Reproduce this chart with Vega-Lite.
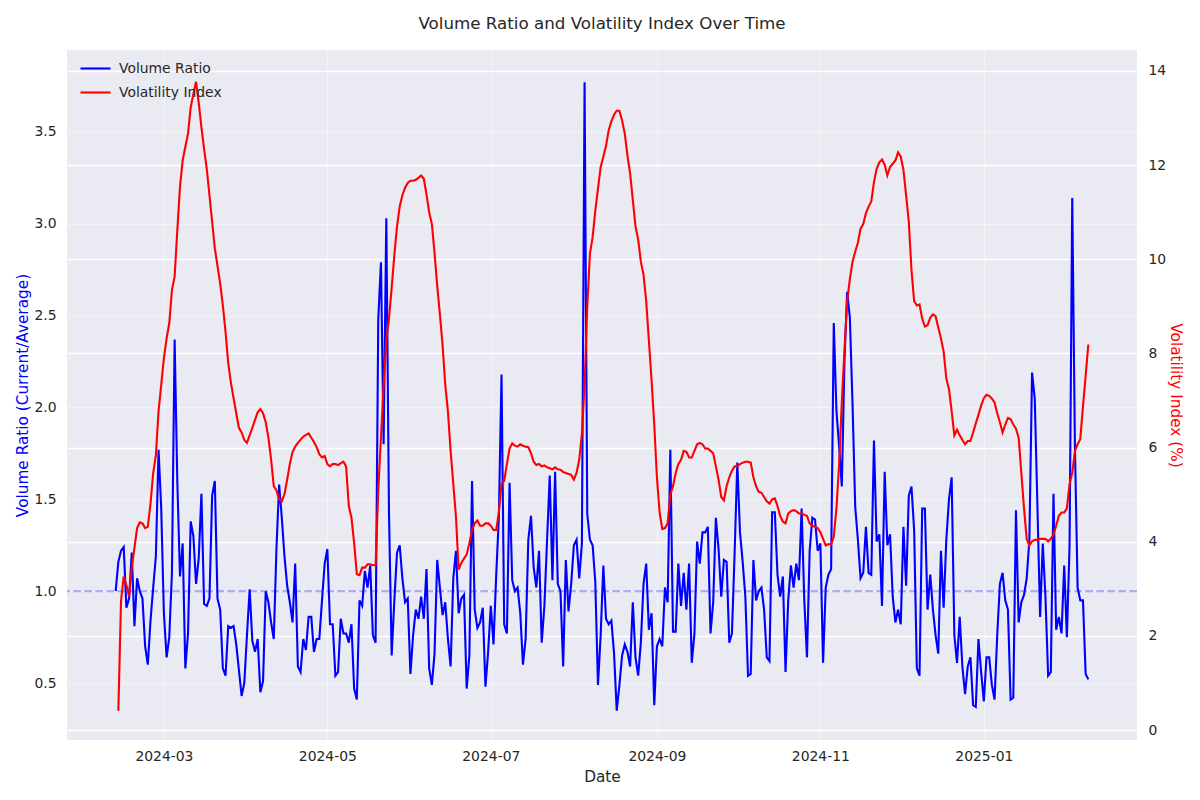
{
  "$schema": "https://vega.github.io/schema/vega-lite/v6.json",
  "autosize": {"type": "none"},
  "width": 1070,
  "height": 690,
  "padding": {"left": 67, "top": 50, "right": 63, "bottom": 60},
  "background": "white",
  "title": {"text": "Volume Ratio and Volatility Index Over Time", "fontSize": 16.7, "fontWeight": "normal", "color": "#262626", "font": "DejaVu Sans", "anchor": "middle", "offset": 17},
  "config": {
    "font": "DejaVu Sans",
    "view": {"fill": "#EAEAF2", "stroke": null},
    "axis": {"domain": false, "ticks": false, "labelFontSize": 13.9, "labelColor": "#262626", "titleFontSize": 15.3, "titleFontWeight": "normal", "titleColor": "#262626", "gridColor": "white"},
    "legend": {"symbolType": "stroke", "symbolSize": 900, "symbolStrokeWidth": 2.1, "labelFontSize": 13.9, "labelColor": "#262626", "labelOffset": 7, "rowPadding": -2}
  },
  "data": {"values": [
    {"date":"2024-02-12","vol":1.00,"vix":null},
    {"date":"2024-02-13","vol":1.16,"vix":0.41},
    {"date":"2024-02-14","vol":1.22,"vix":2.75},
    {"date":"2024-02-15","vol":1.24,"vix":3.26},
    {"date":"2024-02-16","vol":0.91,"vix":3.08},
    {"date":"2024-02-17","vol":0.96,"vix":2.84},
    {"date":"2024-02-18","vol":1.21,"vix":3.45},
    {"date":"2024-02-19","vol":0.81,"vix":3.87},
    {"date":"2024-02-20","vol":1.07,"vix":4.29},
    {"date":"2024-02-21","vol":1.00,"vix":4.41},
    {"date":"2024-02-22","vol":0.96,"vix":4.39},
    {"date":"2024-02-23","vol":0.70,"vix":4.29},
    {"date":"2024-02-24","vol":0.60,"vix":4.32},
    {"date":"2024-02-25","vol":0.84,"vix":4.81},
    {"date":"2024-02-26","vol":1.02,"vix":5.46},
    {"date":"2024-02-27","vol":1.19,"vix":5.84},
    {"date":"2024-02-28","vol":1.77,"vix":6.77},
    {"date":"2024-02-29","vol":1.45,"vix":7.33},
    {"date":"2024-03-01","vol":0.88,"vix":7.90},
    {"date":"2024-03-02","vol":0.64,"vix":8.32},
    {"date":"2024-03-03","vol":0.75,"vix":8.64},
    {"date":"2024-03-04","vol":1.10,"vix":9.35},
    {"date":"2024-03-05","vol":2.37,"vix":9.63},
    {"date":"2024-03-06","vol":1.60,"vix":10.61},
    {"date":"2024-03-07","vol":1.08,"vix":11.54},
    {"date":"2024-03-08","vol":1.26,"vix":12.10},
    {"date":"2024-03-09","vol":0.58,"vix":12.39},
    {"date":"2024-03-10","vol":0.77,"vix":12.67},
    {"date":"2024-03-11","vol":1.38,"vix":13.23},
    {"date":"2024-03-12","vol":1.30,"vix":13.51},
    {"date":"2024-03-13","vol":1.04,"vix":13.77},
    {"date":"2024-03-14","vol":1.18,"vix":13.32},
    {"date":"2024-03-15","vol":1.53,"vix":12.81},
    {"date":"2024-03-16","vol":0.93,"vix":12.34},
    {"date":"2024-03-17","vol":0.92,"vix":11.92},
    {"date":"2024-03-18","vol":0.96,"vix":11.36},
    {"date":"2024-03-19","vol":1.52,"vix":10.80},
    {"date":"2024-03-20","vol":1.60,"vix":10.23},
    {"date":"2024-03-21","vol":0.96,"vix":9.86},
    {"date":"2024-03-22","vol":0.90,"vix":9.49},
    {"date":"2024-03-23","vol":0.58,"vix":9.02},
    {"date":"2024-03-24","vol":0.54,"vix":8.46},
    {"date":"2024-03-25","vol":0.81,"vix":7.80},
    {"date":"2024-03-26","vol":0.80,"vix":7.38},
    {"date":"2024-03-27","vol":0.81,"vix":7.05},
    {"date":"2024-03-28","vol":0.71,"vix":6.73},
    {"date":"2024-03-29","vol":0.57,"vix":6.42},
    {"date":"2024-03-30","vol":0.43,"vix":6.32},
    {"date":"2024-03-31","vol":0.50,"vix":6.16},
    {"date":"2024-04-01","vol":0.76,"vix":6.10},
    {"date":"2024-04-02","vol":1.01,"vix":6.26},
    {"date":"2024-04-03","vol":0.73,"vix":6.42},
    {"date":"2024-04-04","vol":0.67,"vix":6.59},
    {"date":"2024-04-05","vol":0.74,"vix":6.75},
    {"date":"2024-04-06","vol":0.45,"vix":6.82},
    {"date":"2024-04-07","vol":0.51,"vix":6.73},
    {"date":"2024-04-08","vol":1.00,"vix":6.54},
    {"date":"2024-04-09","vol":0.94,"vix":6.21},
    {"date":"2024-04-10","vol":0.83,"vix":5.75},
    {"date":"2024-04-11","vol":0.74,"vix":5.18},
    {"date":"2024-04-12","vol":1.23,"vix":5.09},
    {"date":"2024-04-13","vol":1.58,"vix":4.90},
    {"date":"2024-04-14","vol":1.40,"vix":4.86},
    {"date":"2024-04-15","vol":1.19,"vix":5.01},
    {"date":"2024-04-16","vol":1.03,"vix":5.32},
    {"date":"2024-04-17","vol":0.94,"vix":5.65},
    {"date":"2024-04-18","vol":0.83,"vix":5.90},
    {"date":"2024-04-19","vol":1.15,"vix":6.02},
    {"date":"2024-04-20","vol":0.59,"vix":6.10},
    {"date":"2024-04-21","vol":0.56,"vix":6.17},
    {"date":"2024-04-22","vol":0.74,"vix":6.23},
    {"date":"2024-04-23","vol":0.68,"vix":6.27},
    {"date":"2024-04-24","vol":0.86,"vix":6.30},
    {"date":"2024-04-25","vol":0.86,"vix":6.21},
    {"date":"2024-04-26","vol":0.67,"vix":6.12},
    {"date":"2024-04-27","vol":0.74,"vix":6.01},
    {"date":"2024-04-28","vol":0.74,"vix":5.86},
    {"date":"2024-04-29","vol":0.95,"vix":5.79},
    {"date":"2024-04-30","vol":1.15,"vix":5.82},
    {"date":"2024-05-01","vol":1.23,"vix":5.65},
    {"date":"2024-05-02","vol":0.82,"vix":5.60},
    {"date":"2024-05-03","vol":0.82,"vix":5.65},
    {"date":"2024-05-04","vol":0.54,"vix":5.65},
    {"date":"2024-05-05","vol":0.56,"vix":5.63},
    {"date":"2024-05-06","vol":0.85,"vix":5.67},
    {"date":"2024-05-07","vol":0.77,"vix":5.70},
    {"date":"2024-05-08","vol":0.77,"vix":5.60},
    {"date":"2024-05-09","vol":0.72,"vix":4.76},
    {"date":"2024-05-10","vol":0.82,"vix":4.51},
    {"date":"2024-05-11","vol":0.47,"vix":3.97},
    {"date":"2024-05-12","vol":0.41,"vix":3.31},
    {"date":"2024-05-13","vol":0.95,"vix":3.29},
    {"date":"2024-05-14","vol":0.92,"vix":3.45},
    {"date":"2024-05-15","vol":1.11,"vix":3.45},
    {"date":"2024-05-16","vol":1.02,"vix":3.52},
    {"date":"2024-05-17","vol":1.14,"vix":3.52},
    {"date":"2024-05-18","vol":0.76,"vix":3.50},
    {"date":"2024-05-19","vol":0.72,"vix":3.50},
    {"date":"2024-05-20","vol":2.48,"vix":5.09},
    {"date":"2024-05-21","vol":2.79,"vix":6.21},
    {"date":"2024-05-22","vol":1.80,"vix":7.33},
    {"date":"2024-05-23","vol":3.03,"vix":8.27},
    {"date":"2024-05-24","vol":1.43,"vix":8.74},
    {"date":"2024-05-25","vol":0.65,"vix":9.39},
    {"date":"2024-05-26","vol":0.95,"vix":10.09},
    {"date":"2024-05-27","vol":1.21,"vix":10.70},
    {"date":"2024-05-28","vol":1.25,"vix":11.12},
    {"date":"2024-05-29","vol":1.07,"vix":11.36},
    {"date":"2024-05-30","vol":0.94,"vix":11.52},
    {"date":"2024-05-31","vol":0.96,"vix":11.62},
    {"date":"2024-06-01","vol":0.55,"vix":11.67},
    {"date":"2024-06-02","vol":0.76,"vix":11.67},
    {"date":"2024-06-03","vol":0.90,"vix":11.69},
    {"date":"2024-06-04","vol":0.85,"vix":11.73},
    {"date":"2024-06-05","vol":0.97,"vix":11.78},
    {"date":"2024-06-06","vol":0.85,"vix":11.71},
    {"date":"2024-06-07","vol":1.12,"vix":11.38},
    {"date":"2024-06-08","vol":0.58,"vix":11.00},
    {"date":"2024-06-09","vol":0.49,"vix":10.75},
    {"date":"2024-06-10","vol":0.66,"vix":10.14},
    {"date":"2024-06-11","vol":1.17,"vix":9.44},
    {"date":"2024-06-12","vol":1.02,"vix":8.83},
    {"date":"2024-06-13","vol":0.87,"vix":8.18},
    {"date":"2024-06-14","vol":0.94,"vix":7.33},
    {"date":"2024-06-15","vol":0.74,"vix":6.77},
    {"date":"2024-06-16","vol":0.59,"vix":5.93},
    {"date":"2024-06-17","vol":1.07,"vix":5.23},
    {"date":"2024-06-18","vol":1.22,"vix":4.53},
    {"date":"2024-06-19","vol":0.88,"vix":3.41},
    {"date":"2024-06-20","vol":0.96,"vix":3.55},
    {"date":"2024-06-21","vol":0.98,"vix":3.64},
    {"date":"2024-06-22","vol":0.47,"vix":3.73},
    {"date":"2024-06-23","vol":0.65,"vix":3.97},
    {"date":"2024-06-24","vol":1.60,"vix":4.25},
    {"date":"2024-06-25","vol":0.90,"vix":4.39},
    {"date":"2024-06-26","vol":0.80,"vix":4.45},
    {"date":"2024-06-27","vol":0.83,"vix":4.34},
    {"date":"2024-06-28","vol":0.91,"vix":4.34},
    {"date":"2024-06-29","vol":0.48,"vix":4.39},
    {"date":"2024-06-30","vol":0.67,"vix":4.39},
    {"date":"2024-07-01","vol":0.92,"vix":4.34},
    {"date":"2024-07-02","vol":0.71,"vix":4.25},
    {"date":"2024-07-03","vol":1.08,"vix":4.25},
    {"date":"2024-07-04","vol":1.40,"vix":4.62},
    {"date":"2024-07-05","vol":2.18,"vix":5.23},
    {"date":"2024-07-06","vol":0.82,"vix":5.29},
    {"date":"2024-07-07","vol":0.77,"vix":5.65},
    {"date":"2024-07-08","vol":1.59,"vix":5.98},
    {"date":"2024-07-09","vol":1.06,"vix":6.09},
    {"date":"2024-07-10","vol":1.00,"vix":6.04},
    {"date":"2024-07-11","vol":1.02,"vix":6.02},
    {"date":"2024-07-12","vol":0.88,"vix":6.07},
    {"date":"2024-07-13","vol":0.60,"vix":6.04},
    {"date":"2024-07-14","vol":0.74,"vix":6.02},
    {"date":"2024-07-15","vol":1.28,"vix":6.01},
    {"date":"2024-07-16","vol":1.41,"vix":5.88},
    {"date":"2024-07-17","vol":1.13,"vix":5.70},
    {"date":"2024-07-18","vol":1.02,"vix":5.63},
    {"date":"2024-07-19","vol":1.22,"vix":5.65},
    {"date":"2024-07-20","vol":0.72,"vix":5.60},
    {"date":"2024-07-21","vol":0.92,"vix":5.62},
    {"date":"2024-07-22","vol":1.28,"vix":5.58},
    {"date":"2024-07-23","vol":1.63,"vix":5.56},
    {"date":"2024-07-24","vol":1.06,"vix":5.54},
    {"date":"2024-07-25","vol":1.65,"vix":5.58},
    {"date":"2024-07-26","vol":1.04,"vix":5.54},
    {"date":"2024-07-27","vol":1.00,"vix":5.53},
    {"date":"2024-07-28","vol":0.59,"vix":5.48},
    {"date":"2024-07-29","vol":1.17,"vix":5.46},
    {"date":"2024-07-30","vol":0.89,"vix":5.44},
    {"date":"2024-07-31","vol":1.04,"vix":5.42},
    {"date":"2024-08-01","vol":1.25,"vix":5.32},
    {"date":"2024-08-02","vol":1.28,"vix":5.46},
    {"date":"2024-08-03","vol":1.07,"vix":5.74},
    {"date":"2024-08-04","vol":1.26,"vix":6.30},
    {"date":"2024-08-05","vol":3.77,"vix":7.33},
    {"date":"2024-08-06","vol":1.42,"vix":9.00},
    {"date":"2024-08-07","vol":1.28,"vix":10.12},
    {"date":"2024-08-08","vol":1.25,"vix":10.47},
    {"date":"2024-08-09","vol":1.05,"vix":11.03},
    {"date":"2024-08-10","vol":0.49,"vix":11.50},
    {"date":"2024-08-11","vol":0.76,"vix":11.96},
    {"date":"2024-08-12","vol":1.14,"vix":12.18},
    {"date":"2024-08-13","vol":0.85,"vix":12.41},
    {"date":"2024-08-14","vol":0.82,"vix":12.74},
    {"date":"2024-08-15","vol":0.84,"vix":12.93},
    {"date":"2024-08-16","vol":0.66,"vix":13.07},
    {"date":"2024-08-17","vol":0.35,"vix":13.16},
    {"date":"2024-08-18","vol":0.49,"vix":13.15},
    {"date":"2024-08-19","vol":0.65,"vix":12.95},
    {"date":"2024-08-20","vol":0.71,"vix":12.67},
    {"date":"2024-08-21","vol":0.67,"vix":12.20},
    {"date":"2024-08-22","vol":0.59,"vix":11.82},
    {"date":"2024-08-23","vol":0.94,"vix":11.26},
    {"date":"2024-08-24","vol":0.64,"vix":10.70},
    {"date":"2024-08-25","vol":0.54,"vix":10.42},
    {"date":"2024-08-26","vol":0.72,"vix":9.95},
    {"date":"2024-08-27","vol":1.04,"vix":9.67},
    {"date":"2024-08-28","vol":1.15,"vix":9.11},
    {"date":"2024-08-29","vol":0.79,"vix":8.27},
    {"date":"2024-08-30","vol":0.88,"vix":7.43},
    {"date":"2024-08-31","vol":0.38,"vix":6.49},
    {"date":"2024-09-01","vol":0.70,"vix":5.37},
    {"date":"2024-09-02","vol":0.74,"vix":4.62},
    {"date":"2024-09-03","vol":0.70,"vix":4.27},
    {"date":"2024-09-04","vol":1.02,"vix":4.29},
    {"date":"2024-09-05","vol":0.94,"vix":4.39},
    {"date":"2024-09-06","vol":1.77,"vix":5.00},
    {"date":"2024-09-07","vol":0.78,"vix":5.18},
    {"date":"2024-09-08","vol":0.78,"vix":5.46},
    {"date":"2024-09-09","vol":1.15,"vix":5.65},
    {"date":"2024-09-10","vol":0.92,"vix":5.74},
    {"date":"2024-09-11","vol":1.10,"vix":5.93},
    {"date":"2024-09-12","vol":0.90,"vix":5.91},
    {"date":"2024-09-13","vol":1.15,"vix":5.79},
    {"date":"2024-09-14","vol":0.61,"vix":5.79},
    {"date":"2024-09-15","vol":0.77,"vix":5.93},
    {"date":"2024-09-16","vol":1.27,"vix":6.07},
    {"date":"2024-09-17","vol":1.15,"vix":6.10},
    {"date":"2024-09-18","vol":1.32,"vix":6.07},
    {"date":"2024-09-19","vol":1.32,"vix":5.98},
    {"date":"2024-09-20","vol":1.35,"vix":5.98},
    {"date":"2024-09-21","vol":0.77,"vix":5.93},
    {"date":"2024-09-22","vol":0.94,"vix":5.88},
    {"date":"2024-09-23","vol":1.40,"vix":5.60},
    {"date":"2024-09-24","vol":1.23,"vix":5.32},
    {"date":"2024-09-25","vol":0.97,"vix":4.95},
    {"date":"2024-09-26","vol":1.17,"vix":4.88},
    {"date":"2024-09-27","vol":1.16,"vix":5.18},
    {"date":"2024-09-28","vol":0.72,"vix":5.37},
    {"date":"2024-09-29","vol":0.77,"vix":5.51},
    {"date":"2024-09-30","vol":1.21,"vix":5.60},
    {"date":"2024-10-01","vol":1.70,"vix":5.60},
    {"date":"2024-10-02","vol":1.32,"vix":5.65},
    {"date":"2024-10-03","vol":1.16,"vix":5.68},
    {"date":"2024-10-04","vol":0.97,"vix":5.70},
    {"date":"2024-10-05","vol":0.54,"vix":5.70},
    {"date":"2024-10-06","vol":0.55,"vix":5.68},
    {"date":"2024-10-07","vol":1.17,"vix":5.37},
    {"date":"2024-10-08","vol":0.95,"vix":5.18},
    {"date":"2024-10-09","vol":1.00,"vix":5.06},
    {"date":"2024-10-10","vol":1.02,"vix":5.04},
    {"date":"2024-10-11","vol":0.90,"vix":4.95},
    {"date":"2024-10-12","vol":0.64,"vix":4.86},
    {"date":"2024-10-13","vol":0.62,"vix":4.81},
    {"date":"2024-10-14","vol":1.43,"vix":4.90},
    {"date":"2024-10-15","vol":1.43,"vix":4.92},
    {"date":"2024-10-16","vol":1.09,"vix":4.76},
    {"date":"2024-10-17","vol":0.97,"vix":4.55},
    {"date":"2024-10-18","vol":1.08,"vix":4.43},
    {"date":"2024-10-19","vol":0.56,"vix":4.39},
    {"date":"2024-10-20","vol":0.95,"vix":4.60},
    {"date":"2024-10-21","vol":1.14,"vix":4.65},
    {"date":"2024-10-22","vol":1.02,"vix":4.67},
    {"date":"2024-10-23","vol":1.15,"vix":4.65},
    {"date":"2024-10-24","vol":1.06,"vix":4.60},
    {"date":"2024-10-25","vol":1.45,"vix":4.60},
    {"date":"2024-10-26","vol":0.95,"vix":4.57},
    {"date":"2024-10-27","vol":0.64,"vix":4.55},
    {"date":"2024-10-28","vol":1.22,"vix":4.39},
    {"date":"2024-10-29","vol":1.40,"vix":4.34},
    {"date":"2024-10-30","vol":1.39,"vix":4.32},
    {"date":"2024-10-31","vol":1.22,"vix":4.29},
    {"date":"2024-11-01","vol":1.26,"vix":4.20},
    {"date":"2024-11-02","vol":0.61,"vix":4.06},
    {"date":"2024-11-03","vol":1.02,"vix":3.92},
    {"date":"2024-11-04","vol":1.09,"vix":3.95},
    {"date":"2024-11-05","vol":1.12,"vix":3.94},
    {"date":"2024-11-06","vol":2.46,"vix":4.11},
    {"date":"2024-11-07","vol":1.98,"vix":4.71},
    {"date":"2024-11-08","vol":1.79,"vix":5.65},
    {"date":"2024-11-09","vol":1.57,"vix":6.96},
    {"date":"2024-11-10","vol":2.26,"vix":8.08},
    {"date":"2024-11-11","vol":2.63,"vix":9.11},
    {"date":"2024-11-12","vol":2.49,"vix":9.58},
    {"date":"2024-11-13","vol":2.02,"vix":9.95},
    {"date":"2024-11-14","vol":1.46,"vix":10.16},
    {"date":"2024-11-15","vol":1.28,"vix":10.35},
    {"date":"2024-11-16","vol":1.07,"vix":10.65},
    {"date":"2024-11-17","vol":1.10,"vix":10.75},
    {"date":"2024-11-18","vol":1.35,"vix":10.98},
    {"date":"2024-11-19","vol":1.10,"vix":11.12},
    {"date":"2024-11-20","vol":1.09,"vix":11.23},
    {"date":"2024-11-21","vol":1.82,"vix":11.64},
    {"date":"2024-11-22","vol":1.27,"vix":11.92},
    {"date":"2024-11-23","vol":1.31,"vix":12.06},
    {"date":"2024-11-24","vol":0.92,"vix":12.12},
    {"date":"2024-11-25","vol":1.65,"vix":12.01},
    {"date":"2024-11-26","vol":1.25,"vix":11.78},
    {"date":"2024-11-27","vol":1.31,"vix":11.96},
    {"date":"2024-11-28","vol":0.97,"vix":12.03},
    {"date":"2024-11-29","vol":0.83,"vix":12.10},
    {"date":"2024-11-30","vol":0.90,"vix":12.27},
    {"date":"2024-12-01","vol":0.82,"vix":12.18},
    {"date":"2024-12-02","vol":1.35,"vix":11.90},
    {"date":"2024-12-03","vol":1.03,"vix":11.36},
    {"date":"2024-12-04","vol":1.52,"vix":10.80},
    {"date":"2024-12-05","vol":1.57,"vix":9.77},
    {"date":"2024-12-06","vol":1.33,"vix":9.11},
    {"date":"2024-12-07","vol":0.58,"vix":9.02},
    {"date":"2024-12-08","vol":0.54,"vix":9.04},
    {"date":"2024-12-09","vol":1.45,"vix":8.74},
    {"date":"2024-12-10","vol":1.45,"vix":8.57},
    {"date":"2024-12-11","vol":0.90,"vix":8.60},
    {"date":"2024-12-12","vol":1.09,"vix":8.76},
    {"date":"2024-12-13","vol":0.90,"vix":8.83},
    {"date":"2024-12-14","vol":0.76,"vix":8.79},
    {"date":"2024-12-15","vol":0.66,"vix":8.55},
    {"date":"2024-12-16","vol":1.22,"vix":8.32},
    {"date":"2024-12-17","vol":0.91,"vix":8.04},
    {"date":"2024-12-18","vol":1.28,"vix":7.47},
    {"date":"2024-12-19","vol":1.50,"vix":7.24},
    {"date":"2024-12-20","vol":1.62,"vix":6.77},
    {"date":"2024-12-21","vol":0.76,"vix":6.26},
    {"date":"2024-12-22","vol":0.61,"vix":6.38},
    {"date":"2024-12-23","vol":0.86,"vix":6.26},
    {"date":"2024-12-24","vol":0.59,"vix":6.16},
    {"date":"2024-12-25","vol":0.44,"vix":6.07},
    {"date":"2024-12-26","vol":0.59,"vix":6.14},
    {"date":"2024-12-27","vol":0.64,"vix":6.14},
    {"date":"2024-12-28","vol":0.38,"vix":6.32},
    {"date":"2024-12-29","vol":0.37,"vix":6.51},
    {"date":"2024-12-30","vol":0.74,"vix":6.70},
    {"date":"2024-12-31","vol":0.56,"vix":6.89},
    {"date":"2025-01-01","vol":0.40,"vix":7.05},
    {"date":"2025-01-02","vol":0.64,"vix":7.12},
    {"date":"2025-01-03","vol":0.64,"vix":7.10},
    {"date":"2025-01-04","vol":0.49,"vix":7.04},
    {"date":"2025-01-05","vol":0.41,"vix":6.96},
    {"date":"2025-01-06","vol":0.76,"vix":6.73},
    {"date":"2025-01-07","vol":1.04,"vix":6.54},
    {"date":"2025-01-08","vol":1.10,"vix":6.32},
    {"date":"2025-01-09","vol":0.95,"vix":6.49},
    {"date":"2025-01-10","vol":0.90,"vix":6.63},
    {"date":"2025-01-11","vol":0.41,"vix":6.60},
    {"date":"2025-01-12","vol":0.42,"vix":6.49},
    {"date":"2025-01-13","vol":1.44,"vix":6.40},
    {"date":"2025-01-14","vol":0.83,"vix":6.21},
    {"date":"2025-01-15","vol":0.94,"vix":5.46},
    {"date":"2025-01-16","vol":0.98,"vix":4.71},
    {"date":"2025-01-17","vol":1.07,"vix":4.06},
    {"date":"2025-01-18","vol":1.28,"vix":3.92},
    {"date":"2025-01-19","vol":2.19,"vix":4.01},
    {"date":"2025-01-20","vol":2.05,"vix":4.04},
    {"date":"2025-01-21","vol":1.47,"vix":4.04},
    {"date":"2025-01-22","vol":0.86,"vix":4.06},
    {"date":"2025-01-23","vol":1.26,"vix":4.06},
    {"date":"2025-01-24","vol":0.97,"vix":4.06},
    {"date":"2025-01-25","vol":0.54,"vix":4.01},
    {"date":"2025-01-26","vol":0.56,"vix":4.06},
    {"date":"2025-01-27","vol":1.53,"vix":4.15},
    {"date":"2025-01-28","vol":0.79,"vix":4.34},
    {"date":"2025-01-29","vol":0.86,"vix":4.55},
    {"date":"2025-01-30","vol":0.77,"vix":4.62},
    {"date":"2025-01-31","vol":1.14,"vix":4.62},
    {"date":"2025-02-01","vol":0.75,"vix":4.71},
    {"date":"2025-02-02","vol":1.25,"vix":5.23},
    {"date":"2025-02-03","vol":3.14,"vix":5.46},
    {"date":"2025-02-04","vol":1.79,"vix":5.93},
    {"date":"2025-02-05","vol":1.02,"vix":6.07},
    {"date":"2025-02-06","vol":0.95,"vix":6.18},
    {"date":"2025-02-07","vol":0.95,"vix":6.87},
    {"date":"2025-02-08","vol":0.55,"vix":7.52},
    {"date":"2025-02-09","vol":0.52,"vix":8.19}
  ]},
  "layer": [
    {
      "layer": [
        {
          "mark": {"type": "line", "strokeWidth": 2.1},
          "encoding": {
            "x": {"field": "date", "type": "temporal", "title": "Date",
              "scale": {"type": "utc", "domain": [{"year": 2024, "month": 1, "date": 24, "hours": 20, "utc": true}, {"year": 2025, "month": 2, "date": 27, "hours": 4, "utc": true}]},
              "axis": {"labelExpr": "utcFormat(datum.value, '%Y-%m')", "labelPadding": 9, "titlePadding": 7, "grid": true, "gridOpacity": 0.45, "gridWidth": 1,
                "values": [{"year": 2024, "month": 3, "date": 1, "utc": true}, {"year": 2024, "month": 5, "date": 1, "utc": true}, {"year": 2024, "month": 7, "date": 1, "utc": true}, {"year": 2024, "month": 9, "date": 1, "utc": true}, {"year": 2024, "month": 11, "date": 1, "utc": true}, {"year": 2025, "month": 1, "date": 1, "utc": true}]}},
            "y": {"field": "vol", "type": "quantitative", "title": "Volume Ratio (Current/Average)",
              "scale": {"domain": [0.19, 3.946], "nice": false, "zero": false},
              "axis": {"orient": "left", "values": [0.5, 1.0, 1.5, 2.0, 2.5, 3.0, 3.5], "format": ".1f", "titleColor": "blue", "labelPadding": 11, "titlePadding": 3, "grid": true, "gridOpacity": 0.45, "gridWidth": 1}},
            "color": {"datum": "Volume Ratio", "type": "nominal",
              "scale": {"domain": ["Volume Ratio", "Volatility Index"], "range": ["blue", "red"]},
              "legend": {"title": null, "orient": "none", "legendX": 12, "legendY": 2}}
          }
        },
        {
          "data": {"values": [{"level": 1.0}]},
          "mark": {"type": "rule", "color": "blue", "opacity": 0.3, "strokeWidth": 2.1, "strokeDash": [7.7, 3.3]},
          "encoding": {"y": {"field": "level", "type": "quantitative"}}
        }
      ]
    },
    {
      "mark": {"type": "line", "strokeWidth": 2.1},
      "encoding": {
        "x": {"field": "date", "type": "temporal"},
        "y": {"field": "vix", "type": "quantitative", "title": "Volatility Index (%)",
          "scale": {"domain": [-0.212, 14.446], "nice": false, "zero": false},
          "axis": {"orient": "right", "values": [0, 2, 4, 6, 8, 10, 12, 14], "titleColor": "red", "labelPadding": 11, "titlePadding": 2, "grid": true, "gridOpacity": 1, "gridWidth": 1.3}},
        "color": {"datum": "Volatility Index", "type": "nominal"}
      }
    }
  ],
  "resolve": {"scale": {"y": "independent"}, "axis": {"y": "independent"}}
}
